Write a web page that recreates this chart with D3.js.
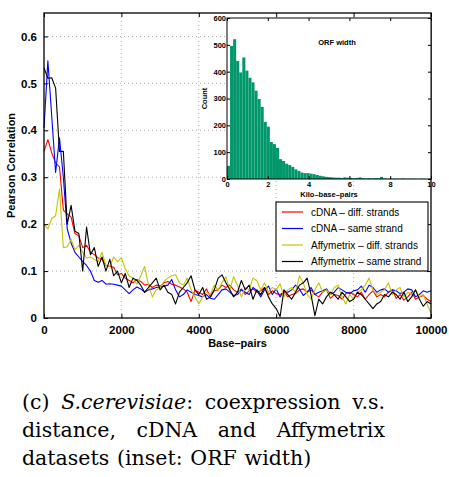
<!DOCTYPE html>
<html>
<head>
<meta charset="utf-8">
<script src="https://cdn.jsdelivr.net/npm/d3@7"></script>
<style>
  body { margin: 0; background: #fff; }
  svg { display: block; }
</style>
</head>
<body>
<div id="chart"></div>
<script>
// distance bins (bp), one value every 100 bp
var distances = d3.range(0, 10001, 100);

var cdnaDiff = [
  0.355, 0.38, 0.352, 0.33, 0.322, 0.23, 0.222, 0.215, 0.18, 0.175, 0.15,
  0.155, 0.14, 0.135, 0.128, 0.125, 0.112, 0.11, 0.108, 0.092, 0.095,
  0.085, 0.08, 0.075, 0.082, 0.078, 0.07, 0.072, 0.065, 0.07, 0.068,
  0.075, 0.078, 0.072, 0.07, 0.066, 0.062, 0.055, 0.035, 0.06, 0.055,
  0.05, 0.062, 0.045, 0.058, 0.06, 0.07, 0.065, 0.07, 0.06, 0.055,
  0.062, 0.05, 0.058, 0.062, 0.055, 0.058, 0.065, 0.05, 0.058, 0.052,
  0.05, 0.055, 0.045, 0.05, 0.052, 0.06, 0.062, 0.055, 0.06, 0.05,
  0.045, 0.055, 0.06, 0.042, 0.05, 0.048, 0.04, 0.052, 0.055, 0.05,
  0.045, 0.055, 0.04, 0.05, 0.058, 0.045, 0.05, 0.045, 0.055, 0.06,
  0.042, 0.05, 0.038, 0.045, 0.055, 0.04, 0.045, 0.048, 0.04, 0.035
];
var cdnaSame = [
  0.405, 0.548, 0.43, 0.31, 0.384, 0.30, 0.19, 0.16, 0.14, 0.13, 0.12,
  0.112, 0.1, 0.08, 0.076, 0.08, 0.072, 0.073, 0.072, 0.07, 0.068,
  0.06, 0.052, 0.06, 0.066, 0.062, 0.055, 0.06, 0.062, 0.065, 0.066,
  0.068, 0.07, 0.082, 0.06, 0.045, 0.05, 0.06, 0.055, 0.05, 0.048,
  0.045, 0.05, 0.042, 0.04, 0.05, 0.06, 0.062, 0.055, 0.048, 0.05,
  0.06, 0.055, 0.05, 0.065, 0.058, 0.045, 0.06, 0.068, 0.05, 0.062,
  0.045, 0.058, 0.055, 0.06, 0.07, 0.062, 0.048, 0.055, 0.065, 0.05,
  0.055, 0.058, 0.062, 0.05, 0.055, 0.065, 0.06, 0.055, 0.052, 0.058,
  0.06, 0.068, 0.055, 0.07, 0.065, 0.055, 0.06, 0.062, 0.055, 0.06,
  0.058, 0.052, 0.055, 0.062, 0.06, 0.045, 0.05, 0.058, 0.055, 0.058
];
var affyDiff = [
  0.2, 0.19, 0.212, 0.218, 0.275, 0.15, 0.152, 0.168, 0.145, 0.155, 0.14,
  0.128, 0.13, 0.125, 0.12, 0.14, 0.112, 0.11, 0.13, 0.12, 0.128,
  0.105, 0.09, 0.085, 0.072, 0.09, 0.11, 0.07, 0.045, 0.06, 0.065,
  0.078, 0.085, 0.09, 0.092, 0.075, 0.07, 0.085, 0.06, 0.045, 0.03,
  0.045, 0.055, 0.05, 0.07, 0.06, 0.075, 0.088, 0.06, 0.088, 0.07,
  0.045, 0.065, 0.06, 0.085, 0.08, 0.06, 0.075, 0.055, 0.065, 0.06,
  0.073, 0.045, 0.06, 0.065, 0.055, 0.09, 0.075, 0.05, 0.04, 0.06,
  0.075, 0.055, 0.06, 0.05, 0.065, 0.07, 0.045, 0.03, 0.05, 0.04,
  0.055, 0.06, 0.07, 0.085, 0.06, 0.05, 0.055, 0.06, 0.075, 0.05,
  0.06, 0.065, 0.045, 0.055, 0.05, 0.06, 0.045, 0.05, 0.03, 0.01
];
var affySame = [
  0.533, 0.511, 0.512, 0.49, 0.355, 0.355, 0.2, 0.24, 0.185, 0.18, 0.1,
  0.194, 0.135, 0.15, 0.11, 0.13, 0.1, 0.125, 0.09, 0.1, 0.075,
  0.095, 0.065, 0.085, 0.08, 0.07, 0.055, 0.065, 0.075, 0.085, 0.06,
  0.07, 0.055, 0.05, 0.03, 0.055, 0.065, 0.075, 0.09, 0.06, 0.05,
  0.065, 0.04, 0.045, 0.06, 0.085, 0.092, 0.075, 0.06, 0.045, 0.055,
  0.08, 0.06, 0.07, 0.04, 0.06, 0.05, 0.065, 0.045, 0.03, 0.02,
  0.003, 0.06, 0.05, 0.04, 0.055, 0.07, 0.075, 0.085, 0.05, 0.005,
  0.04, 0.03, 0.045, 0.055, 0.05, 0.04, 0.055, 0.045, 0.035, 0.04,
  0.055, 0.05, 0.04, 0.03, 0.02, 0.03, 0.035, 0.05, 0.045, 0.055,
  0.05, 0.04, 0.055, 0.035, 0.045, 0.06, 0.04, 0.025, 0.035, 0.03
];

var seriesNames = ["cDNA \u2013 diff. strands", "cDNA \u2013 same strand",
                   "Affymetrix \u2013 diff. strands", "Affymetrix \u2013 same strand"];
var seriesColors = ["#ff0000", "#0000ff", "#c4c400", "#000000"];
var seriesValues = [cdnaDiff, cdnaSame, affyDiff, affySame];

var xTicks = [0, 2000, 4000, 6000, 8000, 10000];
var yTicks = [0, 0.1, 0.2, 0.3, 0.4, 0.5, 0.6];

// inset histogram: ORF width, bins of 0.15 kbp
var orfBinWidth = 0.15;
var orfCounts = [
  49, 496, 521, 440, 397, 453, 404, 377, 360, 329, 298, 269, 213,
  195, 138, 130, 116, 74, 67, 57, 52, 45, 36, 30, 24, 22,
  22, 20, 18, 15, 12, 10, 8, 7, 6, 5,
  5, 4, 6, 5, 4, 3, 4, 6, 3, 2,
  3, 2, 3, 3, 8, 2, 1, 2, 1, 1,
  1, 2, 1, 1, 1, 1, 0, 1, 1, 0, 1
];
var insetXTicks = [0, 2, 4, 6, 8, 10];
var insetYTicks = [0, 100, 200, 300, 400, 500, 600];

var W = 449, H = 477;
var sans = "'Liberation Sans', Arial, Helvetica, sans-serif";

var svg = d3.select("#chart").append("svg")
  .attr("width", W).attr("height", H)
  .style("font-family", sans);

// ---- main axes ----
var x = d3.scaleLinear().domain([0, 10000]).range([44, 431]);
var y = d3.scaleLinear().domain([0, 0.65]).range([318, 13]);

// dotted grid
var grid = svg.append("g").attr("stroke", "#9a9a9a").attr("stroke-width", 0.8)
  .attr("stroke-dasharray", "1,3");
grid.selectAll("line.gx").data(xTicks.slice(1, -1)).enter().append("line")
  .attr("x1", d => x(d)).attr("x2", d => x(d))
  .attr("y1", y.range()[0]).attr("y2", y.range()[1]);
grid.selectAll("line.gy").data(yTicks.slice(1)).enter().append("line")
  .attr("x1", x.range()[0]).attr("x2", x.range()[1])
  .attr("y1", d => y(d)).attr("y2", d => y(d));

// lines
var line = d3.line()
  .x((d, i) => x(distances[i]))
  .y(d => y(d));

svg.append("g").selectAll("path")
  .data(seriesValues)
  .enter()
  .append("path")
  .attr("d", d => line(d))
  .attr("fill", "none")
  .attr("stroke", (d, i) => seriesColors[i])
  .attr("stroke-width", 1.1)
  .attr("stroke-linejoin", "round");

// axes with inward ticks
function styleAxis(g, size) {
  g.select(".domain").remove();
  g.selectAll(".tick line").attr("stroke", "#000");
  g.selectAll(".tick text").attr("fill", "#000")
    .style("font-family", sans).style("font-weight", "bold").style("font-size", size + "px");
}

svg.append("g").attr("transform", "translate(0," + y(0) + ")")
  .call(d3.axisBottom(x).tickValues(xTicks).tickSize(-4).tickPadding(8).tickFormat(d3.format("d")))
  .call(g => styleAxis(g, 11.5));
svg.append("g").attr("transform", "translate(0," + y.range()[1] + ")")
  .call(d3.axisTop(x).tickValues(xTicks).tickSize(-4).tickFormat(""))
  .call(g => styleAxis(g, 11.5));
svg.append("g").attr("transform", "translate(" + x.range()[0] + ",0)")
  .call(d3.axisLeft(y).tickValues(yTicks).tickSize(-4).tickPadding(7)
    .tickFormat(d => d === 0 ? "0" : d.toFixed(1)))
  .call(g => styleAxis(g, 11.5));
svg.append("g").attr("transform", "translate(" + x.range()[1] + ",0)")
  .call(d3.axisRight(y).tickValues(yTicks).tickSize(-4).tickFormat(""))
  .call(g => styleAxis(g, 11.5));

svg.append("rect")
  .attr("x", x.range()[0]).attr("y", y.range()[1])
  .attr("width", x.range()[1] - x.range()[0]).attr("height", y.range()[0] - y.range()[1])
  .attr("fill", "none").attr("stroke", "#000").attr("stroke-width", 1.3);

svg.append("text")
  .attr("x", (x.range()[0] + x.range()[1]) / 2).attr("y", 347)
  .attr("text-anchor", "middle")
  .style("font-weight", "bold").style("font-size", "11px")
  .text("Base\u2013pairs");

svg.append("text")
  .attr("transform", "translate(15," + ((y.range()[0] + y.range()[1]) / 2) + ") rotate(-90)")
  .attr("text-anchor", "middle")
  .style("font-weight", "bold").style("font-size", "11px")
  .text("Pearson Correlation");

// ---- legend ----
var legend = svg.append("g").attr("transform", "translate(276,202)");
legend.append("rect").attr("width", 152).attr("height", 69)
  .attr("fill", "#fff").attr("stroke", "#000").attr("stroke-width", 1.1);
var legendRows = legend.selectAll("g.row").data(seriesNames).enter().append("g")
  .attr("transform", (d, i) => "translate(0," + (10 + i * 16.5) + ")");
legendRows.append("line")
  .attr("x1", 6).attr("x2", 27).attr("y1", 0).attr("y2", 0)
  .attr("stroke", (d, i) => seriesColors[i]).attr("stroke-width", 1.2);
legendRows.append("text")
  .attr("x", 35).attr("y", 3.5)
  .style("font-size", "10px")
  .text(d => d);

// ---- inset histogram ----
var xi = d3.scaleLinear().domain([0, 10]).range([227, 431]);
var yi = d3.scaleLinear().domain([0, 600]).range([179, 18]);
var inset = svg.append("g");
inset.append("rect")
  .attr("x", xi.range()[0]).attr("y", yi.range()[1])
  .attr("width", xi.range()[1] - xi.range()[0]).attr("height", yi.range()[0] - yi.range()[1])
  .attr("fill", "#fff");

inset.append("g").selectAll("rect")
  .data(orfCounts)
  .enter()
  .append("rect")
  .attr("x", (d, i) => xi(i * orfBinWidth))
  .attr("width", (d, i) => Math.max(0, Math.min(xi(10), xi((i + 1) * orfBinWidth)) - xi(i * orfBinWidth)))
  .attr("y", d => yi(d))
  .attr("height", d => yi(0) - yi(d))
  .attr("fill", "#00976a");

inset.append("g").attr("transform", "translate(0," + yi(0) + ")")
  .call(d3.axisBottom(xi).tickValues(insetXTicks).tickSize(-3).tickPadding(3))
  .call(g => styleAxis(g, 7.5));
inset.append("g").attr("transform", "translate(0," + yi.range()[1] + ")")
  .call(d3.axisTop(xi).tickValues(insetXTicks).tickSize(-3).tickFormat(""))
  .call(g => styleAxis(g, 7.5));
inset.append("g").attr("transform", "translate(" + xi.range()[0] + ",0)")
  .call(d3.axisLeft(yi).tickValues(insetYTicks).tickSize(-3).tickPadding(1))
  .call(g => styleAxis(g, 7.5));
inset.append("g").attr("transform", "translate(" + xi.range()[1] + ",0)")
  .call(d3.axisRight(yi).tickValues(insetYTicks).tickSize(-3).tickFormat(""))
  .call(g => styleAxis(g, 7.5));

inset.append("rect")
  .attr("x", xi.range()[0]).attr("y", yi.range()[1])
  .attr("width", xi.range()[1] - xi.range()[0]).attr("height", yi.range()[0] - yi.range()[1])
  .attr("fill", "none").attr("stroke", "#000").attr("stroke-width", 1);

inset.append("text")
  .attr("x", 337).attr("y", 45).attr("text-anchor", "middle")
  .style("font-weight", "bold").style("font-size", "7.5px")
  .text("ORF width");
inset.append("text")
  .attr("x", (xi.range()[0] + xi.range()[1]) / 2).attr("y", 197).attr("text-anchor", "middle")
  .style("font-weight", "bold").style("font-size", "7.5px")
  .text("Kilo\u2013base\u2013pairs");
inset.append("text")
  .attr("transform", "translate(207," + ((yi.range()[0] + yi.range()[1]) / 2) + ") rotate(-90)")
  .attr("text-anchor", "middle")
  .style("font-weight", "bold").style("font-size", "7.5px")
  .text("Count");

// ---- caption (justified like the LaTeX source) ----
var captionLines = [
  { words: [[["(c)", ""]], [["S.cerevisiae", "italic"], [":", ""]], [["coexpression", ""]], [["v.s.", ""]]], justify: true },
  { words: [[["distance,", ""]], [["cDNA", ""]], [["and", ""]], [["Affymetrix", ""]]], justify: true },
  { words: [[["datasets", ""]], [["(inset:", ""]], [["ORF", ""]], [["width)", ""]]], justify: false }
];
var capLeft = 22, capRight = 385, capY = [409, 437, 465];
var capSize = 20.5;

var caption = svg.append("g")
  .style("font-family", "'DejaVu Serif', 'Liberation Serif', serif")
  .style("font-size", capSize + "px");

captionLines.forEach(function (ln, li) {
  var t = caption.append("text").attr("y", capY[li]);
  var wordNodes = ln.words.map(function (w) {
    var g = t.append("tspan");
    w.forEach(function (seg) {
      g.append("tspan").style("font-style", seg[1] || "normal").text(seg[0]);
    });
    return g;
  });
  var widths = wordNodes.map(g => g.node().getComputedTextLength());
  var total = d3.sum(widths);
  var gap = ln.justify ? (capRight - capLeft - total) / (widths.length - 1) : 0.38 * capSize;
  var cx = capLeft;
  wordNodes.forEach(function (g, i) {
    g.attr("x", cx);
    cx += widths[i] + gap;
  });
});
</script>
</body>
</html>
